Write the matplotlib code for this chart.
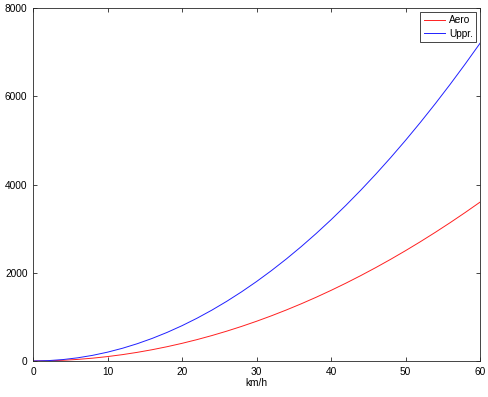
#!/usr/bin/env python3
"""Aero vs rolling resistance style curves against speed."""

import matplotlib
matplotlib.use("Agg")
import matplotlib.pyplot as plt

SPEED_KMH = [0, 2, 4, 6, 8, 10, 12, 14, 16, 18, 20, 22, 24, 26, 28, 30,
             32, 34, 36, 38, 40, 42, 44, 46, 48, 50, 52, 54, 56, 58, 60]
AERO = [0, 4, 16, 36, 64, 100, 144, 196, 256, 324, 400, 484, 576, 676, 784, 900,
        1024, 1156, 1296, 1444, 1600, 1764, 1936, 2116, 2304, 2500, 2704, 2916,
        3136, 3364, 3600]
UPPR = [0, 8, 32, 72, 128, 200, 288, 392, 512, 648, 800, 968, 1152, 1352, 1568, 1800,
        2048, 2312, 2592, 2888, 3200, 3528, 3872, 4232, 4608, 5000, 5408, 5832,
        6272, 6728, 7200]

X_TICKS = [0, 10, 20, 30, 40, 50, 60]
Y_TICKS = [0, 2000, 4000, 6000, 8000]

plt.rcParams["font.family"] = ["Liberation Sans", "DejaVu Sans"]
plt.rcParams["font.size"] = 7.3

fig = plt.figure(figsize=(4.89, 3.97), dpi=100)
ax = fig.add_axes([0.0675, 0.0907, 0.9141, 0.8891])

ax.plot(SPEED_KMH, AERO, color="#ff2020", lw=0.7, label="Aero")
ax.plot(SPEED_KMH, UPPR, color="#2020ff", lw=0.7, label="Uppr.")

ax.set_xlim(0, 60)
ax.set_ylim(0, 8000)
ax.set_xticks(X_TICKS)
ax.set_yticks(Y_TICKS)
ax.tick_params(direction="in", top=True, right=True, length=3, width=0.6,
               colors="#262626", labelcolor="black", pad=4)
for spine in ax.spines.values():
    spine.set_linewidth(0.6)
    spine.set_color("#262626")
ax.set_xlabel("km/h", labelpad=1)

leg = ax.legend(loc="upper right", fancybox=False, framealpha=1,
                edgecolor="#262626", handlelength=2.1, borderpad=0.35,
                labelspacing=0.35, handletextpad=0.4, borderaxespad=0.35)
leg.get_frame().set_linewidth(0.6)

fig.savefig("out.png", dpi=100)
